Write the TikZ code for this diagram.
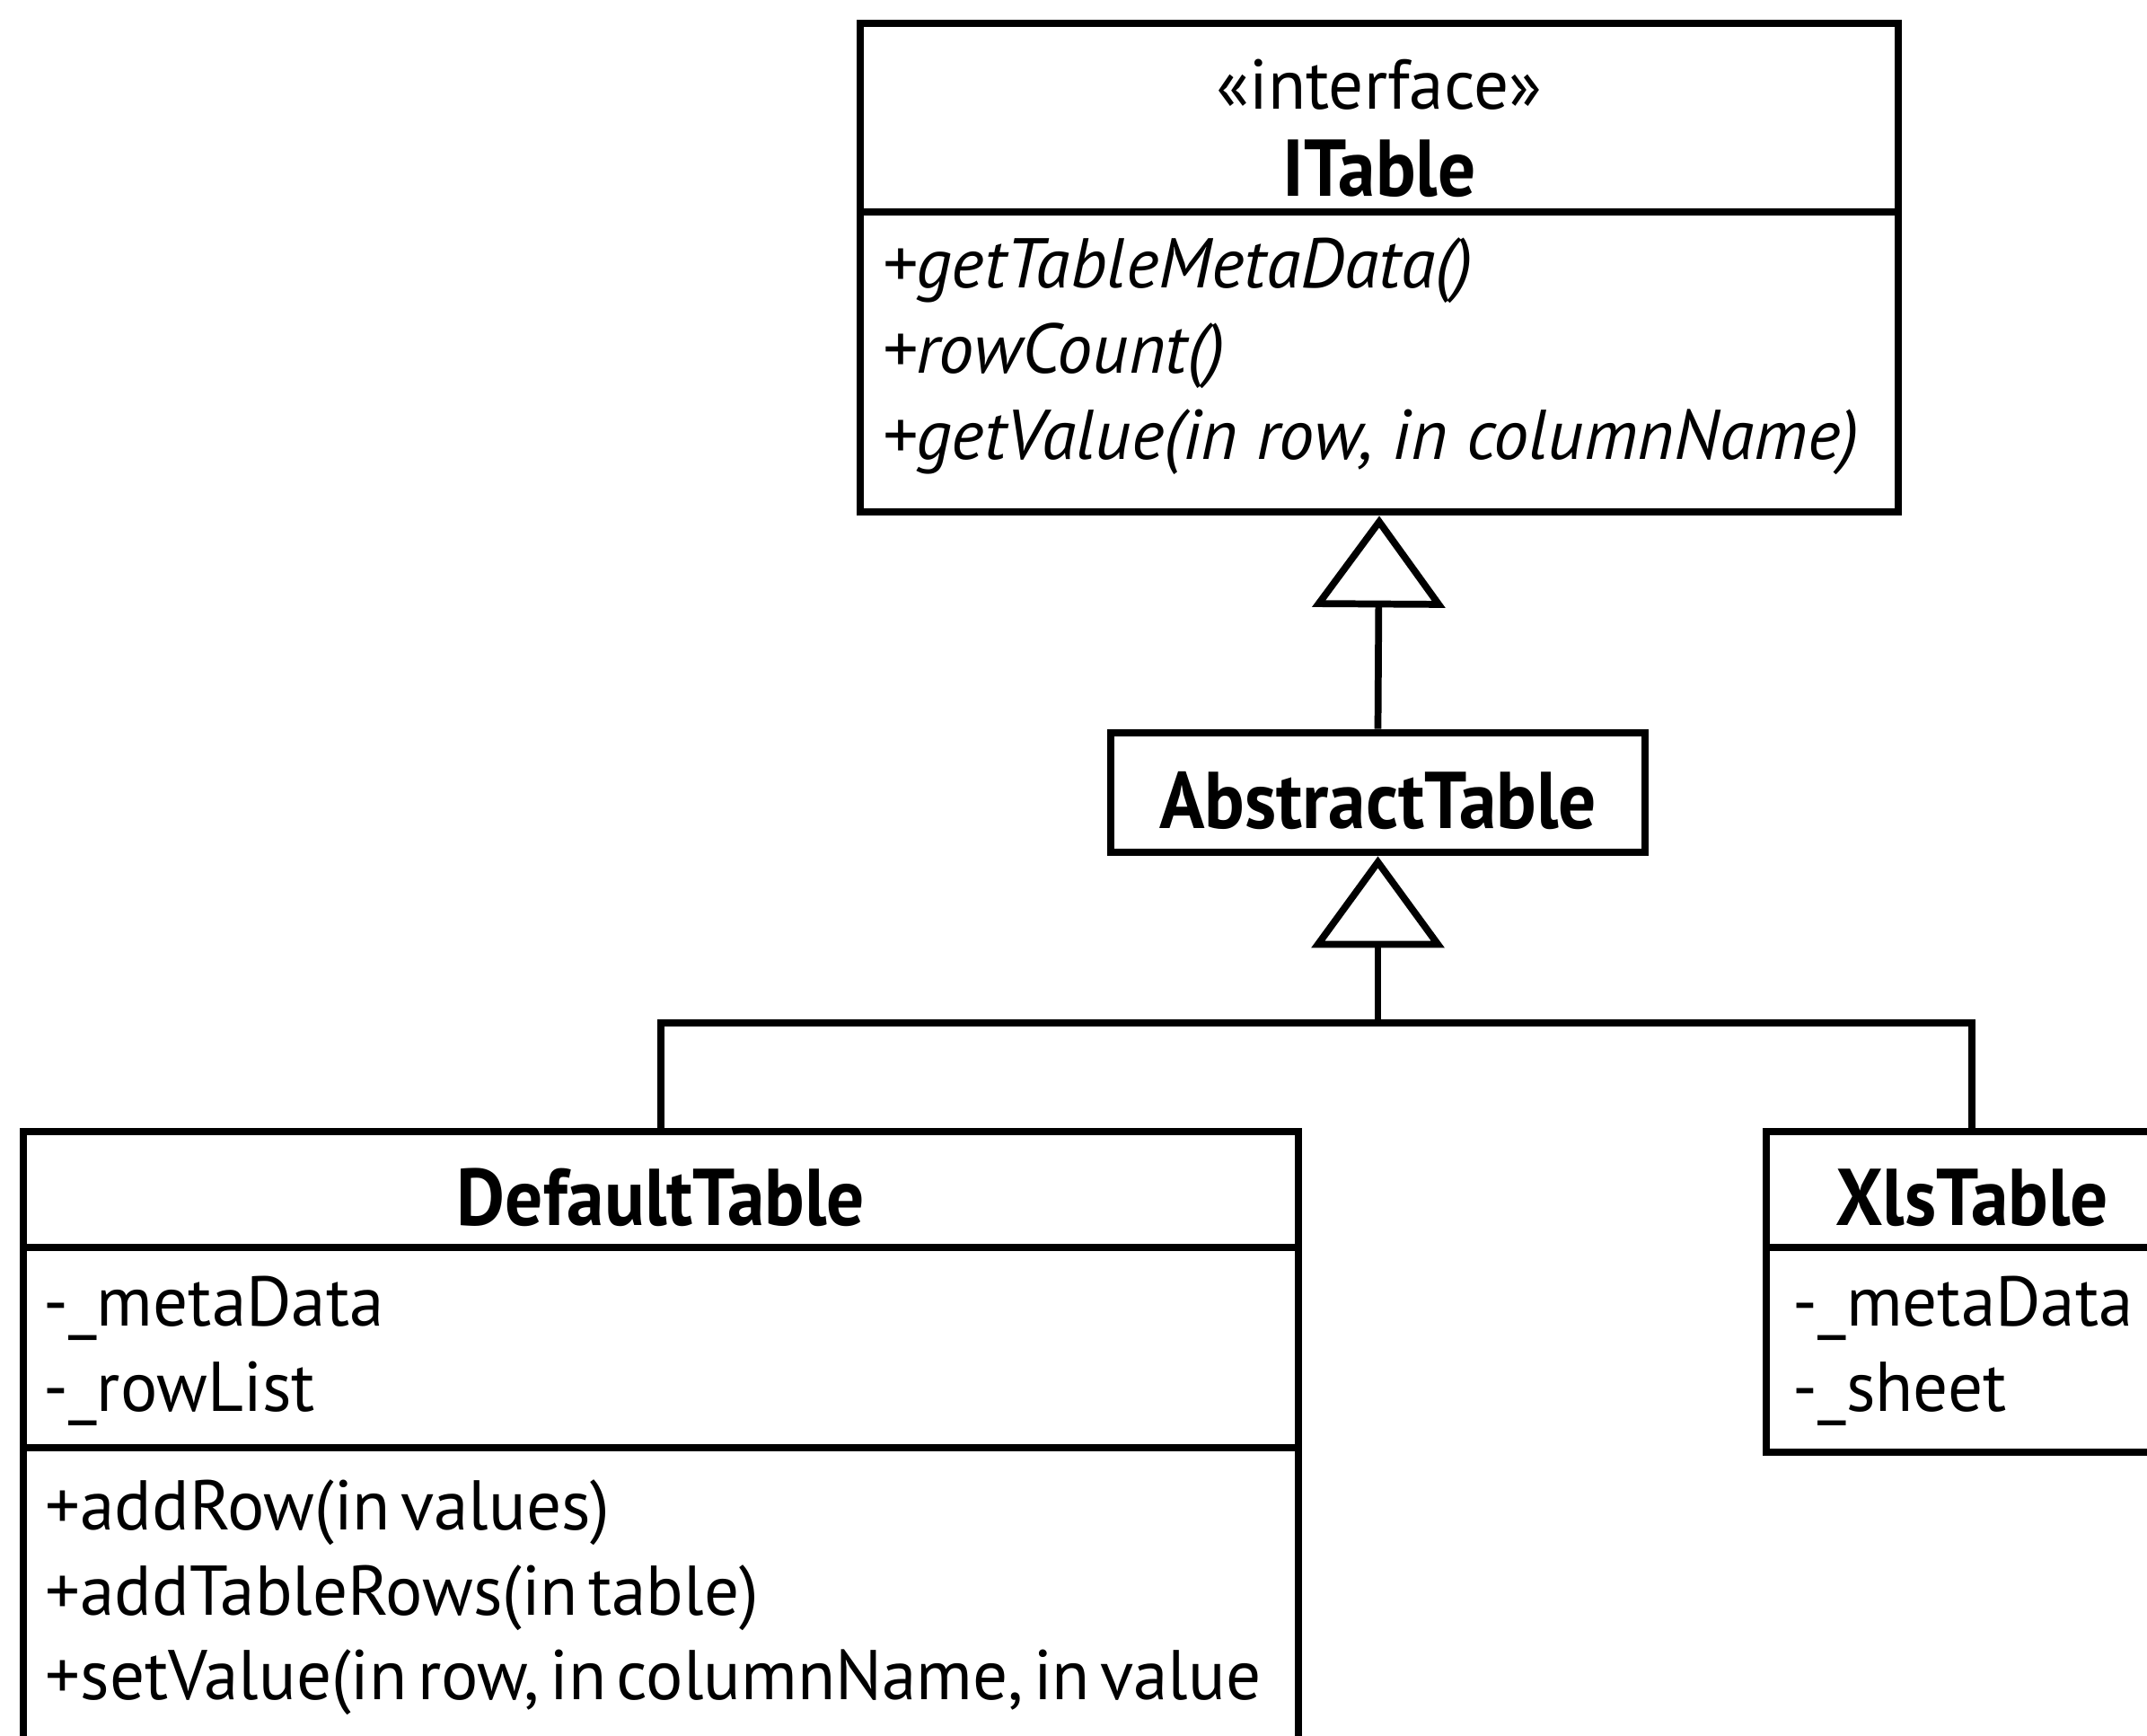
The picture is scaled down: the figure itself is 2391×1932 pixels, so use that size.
\documentclass[tikz,border=0pt]{standalone}
\usepackage{fontspec}
\setmainfont{PT Sans}[
  UprightFeatures={WordSpace=0.55, FakeStretch=0.985},
  BoldFeatures={FakeStretch=0.93}]
\usetikzlibrary{arrows.meta}
\begin{document}
\begin{tikzpicture}[x=0.1mm,y=-0.1mm,
  classbox/.style={draw, line width=2.5pt, fill=white, inner sep=0pt, line join=miter},
  divider/.style={line width=2.5pt},
  conn/.style={line width=2.2pt, line join=miter},
  gen/.style={conn, -{Triangle[open, length=10.2mm, width=14.7mm, line join=miter]}},
  cname/.style={inner sep=0pt, anchor=base, font=\bfseries\fontsize{25.5}{30}\selectfont},
  stereo/.style={inner sep=0pt, anchor=base, font=\fontsize{22.3}{27}\selectfont},
  member/.style={inner sep=0pt, anchor=base west, font=\fontsize{22.3}{27}\selectfont},
  imember/.style={member, font=\itshape\fontsize{22.3}{27}\selectfont},
]
\useasboundingbox (0,0) rectangle (2391,1932);
\clip (0,0) rectangle (2391,1932);

% interface ITable
\node[classbox, minimum width=115.6mm, minimum height=54.4mm] (itable) at (1536,298) {};
\draw[divider] (958,236) -- (2114,236);
\node[stereo] (itstereo) at (1536,121) {«interface»};
\node[cname] (itname) at (1536,218) {ITable};
\node[imember] (itm1) at (982,320) {+getTableMetaData()};
\node[imember] (itm2) at (982,415) {+rowCount()};
\node[imember] (itm3) at (982,511) {+getValue(in row, in columnName)};

% AbstractTable
\node[classbox, minimum width=59.5mm, minimum height=13.3mm] (abs) at (1534.5,882.5) {};
\node[cname] (absname) at (1534.5,922) {AbstractTable};

% DefaultTable
\node[classbox, minimum width=142mm, minimum height=69mm] (dt) at (736,1605) {};
\draw[divider] (26,1389) -- (1446,1389);
\draw[divider] (26,1612) -- (1446,1612);
\node[cname] (dtname) at (736,1364) {DefaultTable};
\node[member] (dta1) at (48,1476) {-\_metaData};
\node[member] (dta2) at (48,1571) {-\_rowList};
\node[member] (dtm1) at (50,1703) {+addRow(in values)};
\node[member] (dtm2) at (50,1798) {+addTableRows(in table)};
\node[member] (dtm3) at (50,1892) {+setValue(in row, in columnName, in value};

% XlsTable
\node[classbox, minimum width=45.8mm, minimum height=35.7mm] (xls) at (2196,1438.5) {};
\draw[divider] (1967,1389) -- (2425,1389);
\node[cname] (xlsname) at (2196,1364) {XlsTable};
\node[member] (xlsa1) at (1996,1476) {-\_metaData};
\node[member] (xlsa2) at (1996,1571) {-\_sheet};

% generalisations
\draw[gen] (abs.north) -- (itable.south);
\coordinate (junc) at (1534.5,1139);
\draw[gen] (junc) -- (abs.south);
\draw[conn] (dt.north) |- (junc) -| (xls.north);
\end{tikzpicture}
\end{document}
